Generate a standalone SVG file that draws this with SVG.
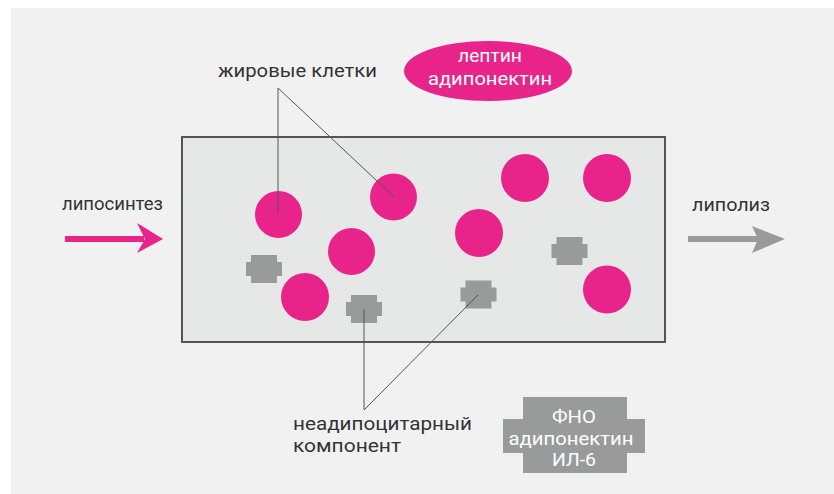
<svg xmlns="http://www.w3.org/2000/svg" width="834" height="494" viewBox="0 0 834 494">
<defs>
<style>
.lbl{font-family:Roboto,"Liberation Sans",sans-serif;font-size:18.5px;fill:#333}
.wt{font-family:Roboto,"Liberation Sans",sans-serif;font-size:18.5px;fill:#fff;text-anchor:middle}
.cell{fill:#e8248b}
.nac{fill:#999a9a}
.ln{stroke:#555;stroke-width:1;fill:none}
</style>
<path id="cr" d="M-13,-14 H13 V-7 H18 V7 H13 V14 H-13 V7 H-18 V-7 H-13 Z"/>
</defs>
<rect x="0" y="0" width="834" height="494" fill="#ffffff"/>
<rect x="11" y="8" width="823" height="486" fill="#f1f1f1"/>
<g id="tissue">
<rect x="182" y="137" width="483" height="205" fill="#e6e7e7" stroke="#555" stroke-width="2"/>
</g>
<g id="cells">
<circle class="cell" cx="278.5" cy="214.5" r="23.5"/>
<circle class="cell" cx="393.5" cy="197" r="23.5"/>
<circle class="cell" cx="351.5" cy="251.5" r="23.5"/>
<circle class="cell" cx="305" cy="297" r="24"/>
<circle class="cell" cx="479" cy="233" r="24"/>
<circle class="cell" cx="525" cy="178" r="24"/>
<circle class="cell" cx="607" cy="178" r="24"/>
<circle class="cell" cx="607" cy="289.5" r="24"/>
</g>
<g id="nonadipo">
<use href="#cr" class="nac" x="264" y="269"/>
<use href="#cr" class="nac" x="364" y="309"/>
<use href="#cr" class="nac" x="478.5" y="294.5"/>
<use href="#cr" class="nac" x="569.5" y="251"/>
</g>
<g id="connectors">
<path class="ln" d="M278,88 V214"/>
<path class="ln" d="M278,88 L394,197"/>
<path class="ln" d="M364,410 V309"/>
<path class="ln" d="M364,410 L478,295"/>
</g>
<g id="label-fat">
<text class="lbl" x="218" y="77" textLength="159" lengthAdjust="spacingAndGlyphs">жировые клетки</text>
</g>
<g id="label-nonadipo">
<text class="lbl" x="293" y="430" textLength="179" lengthAdjust="spacingAndGlyphs">неадипоцитарный</text>
<text class="lbl" x="293" y="452" textLength="108" lengthAdjust="spacingAndGlyphs">компонент</text>
</g>
<g id="leptin">
<ellipse cx="488" cy="71" rx="84" ry="30" fill="#e8248b"/>
<text class="wt" x="490" y="62" textLength="64" lengthAdjust="spacingAndGlyphs">лептин</text>
<text class="wt" x="490" y="85" textLength="124" lengthAdjust="spacingAndGlyphs">адипонектин</text>
</g>
<g id="cytokines">
<path class="nac" d="M523,397 H627 V419 H645 V453 H627 V473 H523 V453 H503 V419 H523 Z"/>
<text class="wt" x="574" y="423" textLength="44" lengthAdjust="spacingAndGlyphs">ФНО</text>
<text class="wt" x="571" y="445" textLength="125" lengthAdjust="spacingAndGlyphs">адипонектин</text>
<text class="wt" x="574" y="466" textLength="44" lengthAdjust="spacingAndGlyphs">ИЛ-6</text>
</g>
<g id="liposynthesis">
<text class="lbl" x="62" y="210" textLength="101" lengthAdjust="spacingAndGlyphs">липосинтез</text>
<path d="M65,236 H144 V242 H65 Z" fill="#e8248b"/>
<path d="M137,223 L163,239 L137,253 L145,239 Z" fill="#e8248b"/>
</g>
<g id="lipolysis">
<text class="lbl" x="692" y="211" textLength="78" lengthAdjust="spacingAndGlyphs">липолиз</text>
<path d="M688,236 H760 V242 H688 Z" fill="#999a9a"/>
<path d="M752,226 L785,239 L752,253 L758,239 Z" fill="#999a9a"/>
</g>
</svg>
